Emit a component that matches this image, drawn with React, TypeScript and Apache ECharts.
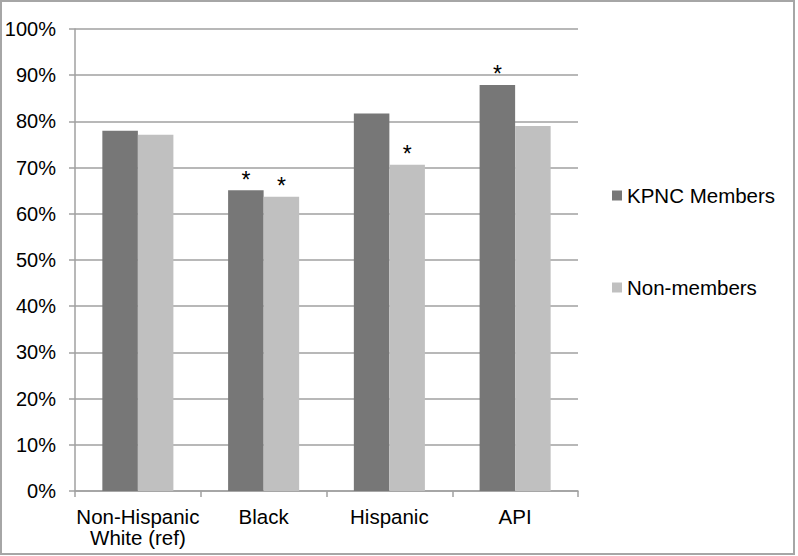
import React, { useEffect, useRef } from "react";
import * as echarts from "echarts";

const categories = ["Non-Hispanic\nWhite (ref)", "Black", "Hispanic", "API"];
const kpncMembers = [78.0, 65.1, 81.7, 87.9];
const nonMembers = [77.1, 63.7, 70.6, 79.0];
const kpncSignificant = [false, true, false, true];
const nonSignificant = [false, true, true, false];
const seriesNames = ["KPNC Members", "Non-members"];

const FONT = "'Liberation Sans', Arial, sans-serif";

function buildData(values: number[], sig: boolean[]) {
  return values.map((v, i) => ({
    value: v,
    label: { show: sig[i] },
  }));
}

export default function App() {
  const ref = useRef<HTMLDivElement>(null);
  useEffect(() => {
    if (!ref.current) return;
    const chart = echarts.init(ref.current, undefined, { renderer: "svg" });
    const starLabel = {
      position: "top",
      distance: -1,
      formatter: "*",
      fontSize: 23,
      fontFamily: FONT,
      color: "#000",
    };
    chart.setOption({
      animation: false,
      backgroundColor: "#ffffff",
      textStyle: { fontFamily: FONT },
      graphic: [
        {
          type: "rect",
          shape: { x: 1, y: 1, width: 793, height: 553 },
          style: { fill: "none", stroke: "#a6a6a6", lineWidth: 2 },
          silent: true,
        },
      ],
      grid: { left: 75, right: 220, top: 29, bottom: 65, containLabel: false },
      legend: {
        orient: "vertical",
        left: 607,
        top: 180,
        itemWidth: 10,
        itemHeight: 10,
        itemGap: 71,
        icon: "rect",
        data: seriesNames,
        textStyle: { fontSize: 20.5, color: "#000", fontFamily: FONT },
      },
      xAxis: {
        type: "category",
        data: categories,
        axisLine: { lineStyle: { color: "#a0a0a0", width: 1.5 } },
        axisTick: { show: true, length: 6, lineStyle: { color: "#a0a0a0", width: 1.5 } },
        axisLabel: {
          interval: 0,
          fontSize: 20.5,
          color: "#000",
          fontFamily: FONT,
          margin: 15,
          lineHeight: 21,
        },
      },
      yAxis: {
        type: "value",
        min: 0,
        max: 100,
        interval: 10,
        axisLine: { show: true, lineStyle: { color: "#a0a0a0", width: 1.5 } },
        axisTick: { show: true, length: 6, lineStyle: { color: "#a0a0a0", width: 1.5 } },
        splitLine: { lineStyle: { color: "#a0a0a0", width: 1.5 } },
        axisLabel: {
          formatter: "{value}%",
          fontSize: 20,
          color: "#000",
          fontFamily: FONT,
          margin: 19,
        },
      },
      series: [
        {
          name: seriesNames[0],
          type: "bar",
          data: buildData(kpncMembers, kpncSignificant),
          itemStyle: { color: "#777777" },
          barGap: "0%",
          barCategoryGap: "43.5%",
          label: starLabel,
        },
        {
          name: seriesNames[1],
          type: "bar",
          data: buildData(nonMembers, nonSignificant),
          itemStyle: { color: "#c0c0c0" },
          label: starLabel,
        },
      ],
    });
    return () => chart.dispose();
  }, []);
  return (
    <div
      ref={ref}
      style={{ position: "fixed", left: 0, top: 0, width: 798, height: 556 }}
    />
  );
}
